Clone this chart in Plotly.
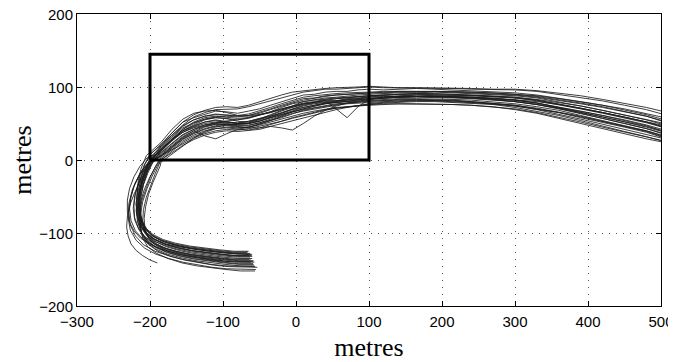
import plotly.graph_objects as go

# Trajectory data (metres).
# Each trajectory = its own lower part (start -> hairpin turn) + upper part on a common x grid.
UPPER_X = [-185,-170,-155,-140,-125,-110,-95,-80,-65,-50,-35,-20,-5,10,25,40,55,70,85,100,
           120,140,165,190,215,240,270,300,330,360,390,420,450,480,505]

LOWER_X = [
    [-60,-80,-100,-120,-140,-160,-178,-193,-204,-211,-215,-216,-214,-209,-203,-195],
    [-66,-86,-106,-126,-146,-166,-183,-197,-207,-213,-217,-218,-217,-214,-208,-199],
    [-55,-75,-95,-115,-135,-155,-174,-192,-207,-219,-227,-230,-229,-224,-214,-200],
    [-59,-79,-99,-119,-139,-159,-177,-192,-204,-212,-217,-219,-217,-213,-207,-198],
    [-63,-83,-103,-123,-143,-163,-180,-195,-205,-212,-216,-217,-215,-211,-205,-197],
    [-190,-200,-210,-219,-226,-230,-232,-231,-228,-222,-215,-208,-201,-195,-191,-188],
    [-58,-78,-98,-118,-138,-158,-176,-191,-202,-208,-212,-213,-212,-209,-204,-197],
    [-56,-76,-96,-116,-136,-156,-175,-191,-203,-210,-213,-213,-210,-204,-197,-190],
    [-67,-87,-107,-127,-147,-167,-184,-197,-206,-212,-215,-216,-214,-210,-204,-197],
    [-62,-82,-102,-122,-142,-162,-180,-196,-210,-220,-226,-228,-226,-221,-213,-203],
    [-60,-80,-100,-120,-140,-160,-177,-192,-203,-210,-214,-215,-213,-209,-203,-196],
    [-61,-81,-101,-121,-141,-161,-178,-193,-203,-209,-213,-214,-213,-210,-205,-198],
    [-57,-77,-97,-117,-137,-157,-176,-192,-204,-211,-214,-214,-211,-205,-199,-192],
    [-64,-84,-104,-124,-144,-164,-181,-196,-207,-214,-218,-219,-217,-212,-206,-199],
    [-53,-73,-93,-113,-133,-153,-172,-189,-202,-210,-214,-215,-213,-208,-201,-193],
    [-100,-118,-136,-154,-171,-187,-201,-213,-222,-228,-231,-231,-228,-222,-214,-204],
    [-65,-85,-105,-125,-145,-165,-182,-196,-206,-212,-215,-216,-215,-212,-207,-200],
    [-58,-78,-98,-118,-138,-158,-176,-192,-204,-211,-216,-218,-216,-212,-206,-198],
    [-62,-82,-102,-122,-142,-162,-180,-194,-203,-207,-208,-206,-202,-196,-190,-186],
    [-60,-80,-100,-120,-140,-160,-178,-194,-206,-213,-217,-219,-218,-216,-212,-205],
    [-63,-83,-103,-123,-143,-163,-180,-195,-205,-211,-214,-215,-213,-209,-203,-196],
    [-57,-77,-97,-117,-137,-157,-175,-190,-201,-207,-210,-209,-205,-199,-193,-188],
    [-64,-84,-104,-124,-144,-164,-181,-196,-208,-216,-221,-222,-220,-215,-208,-199],
    [-56,-76,-96,-116,-136,-156,-175,-193,-209,-220,-227,-229,-227,-222,-214,-203],
    [-61,-81,-101,-121,-141,-161,-179,-194,-205,-211,-214,-215,-214,-211,-206,-199],
    [-59,-79,-99,-119,-139,-159,-177,-193,-206,-215,-221,-223,-221,-216,-209,-200],
]
LOWER_Y = [
    [-130,-129,-127,-125,-122,-119,-115,-109,-101,-91,-78,-63,-47,-31,-15,0],
    [-126,-126,-124,-122,-119,-115,-110,-103,-94,-83,-70,-55,-39,-23,-7,8],
    [-150,-150,-149,-147,-144,-140,-135,-129,-121,-110,-96,-79,-60,-40,-20,-4],
    [-142,-142,-140,-138,-135,-131,-126,-119,-110,-99,-85,-69,-52,-35,-18,-3],
    [-133,-133,-131,-129,-126,-122,-117,-111,-103,-93,-80,-65,-49,-33,-17,0],
    [-141,-137,-131,-124,-115,-104,-92,-78,-63,-47,-32,-18,-6,2,8,11],
    [-138,-138,-136,-134,-131,-127,-122,-115,-106,-95,-82,-66,-50,-33,-16,1],
    [-152,-152,-150,-148,-145,-141,-135,-128,-119,-107,-92,-75,-57,-39,-22,-8],
    [-127,-127,-125,-123,-120,-116,-111,-104,-95,-84,-71,-56,-40,-24,-9,4],
    [-140,-140,-138,-136,-133,-129,-124,-117,-108,-97,-83,-67,-50,-33,-17,-4],
    [-135,-135,-133,-131,-128,-124,-119,-112,-104,-94,-81,-66,-50,-34,-18,-3],
    [-129,-129,-127,-125,-122,-118,-113,-106,-97,-87,-74,-59,-43,-27,-11,4],
    [-145,-145,-143,-141,-138,-134,-129,-122,-113,-102,-88,-72,-55,-38,-22,-8],
    [-131,-131,-129,-127,-124,-120,-115,-108,-99,-88,-75,-60,-44,-28,-13,1],
    [-147,-147,-146,-144,-141,-137,-132,-125,-116,-105,-91,-75,-58,-41,-25,-10],
    [-138,-136,-133,-130,-126,-121,-115,-107,-97,-85,-71,-55,-39,-23,-9,3],
    [-125,-125,-123,-121,-118,-114,-109,-102,-93,-82,-69,-54,-38,-22,-6,8],
    [-143,-143,-141,-139,-136,-132,-127,-120,-111,-100,-86,-70,-53,-36,-20,-5],
    [-137,-137,-135,-133,-130,-126,-121,-114,-105,-94,-80,-64,-47,-31,-17,-8],
    [-132,-132,-130,-128,-125,-121,-116,-109,-100,-89,-76,-61,-45,-28,-11,6],
    [-128,-128,-126,-124,-121,-117,-112,-105,-96,-85,-72,-57,-41,-25,-10,4],
    [-140,-140,-139,-137,-134,-130,-125,-118,-109,-98,-84,-68,-51,-34,-19,-7],
    [-136,-136,-134,-132,-129,-125,-120,-113,-104,-93,-79,-63,-46,-30,-14,1],
    [-146,-146,-145,-143,-140,-136,-131,-125,-116,-104,-89,-72,-54,-36,-19,-5],
    [-131,-131,-129,-127,-124,-120,-115,-108,-99,-88,-75,-60,-44,-27,-11,5],
    [-139,-139,-137,-135,-132,-128,-123,-116,-107,-96,-82,-66,-49,-32,-16,-2],
]
UPPER_Y = [
    [12,27,40,46,52,55,53,50,53,57,61,67,72,77,79,82,81,84,85,86,88,87,89,88,87,85,84,82,78,72,67,61,55,48,41],
    [22,38,52,58,63,67,66,64,67,70,75,80,85,89,90,93,94,94,96,97,96,97,98,97,96,95,94,92,89,85,80,75,69,62,55],
    [6,14,22,30,36,40,42,41,43,46,49,53,57,61,65,68,71,73,75,76,78,79,80,80,79,78,76,72,67,61,54,46,39,32,25],
    [8,20,32,40,33,29,36,42,45,49,54,60,66,70,74,77,79,81,82,84,85,86,87,87,86,85,83,80,76,70,64,57,50,43,35],
    [15,29,42,50,56,58,57,55,57,61,66,72,77,80,83,85,86,88,89,90,91,92,92,93,92,91,90,88,85,80,74,68,62,56,50],
    [14,28,40,47,52,54,52,50,51,55,59,64,69,72,75,78,79,80,81,82,83,84,84,84,83,82,80,77,73,68,61,54,47,40,32],
    [18,34,48,59,65,69,70,70,73,77,81,86,90,93,95,97,97,98,99,100,99,99,99,99,98,97,97,96,94,90,86,81,75,69,62],
    [0,12,24,32,38,43,44,42,41,44,48,53,58,62,66,69,71,73,74,75,76,77,77,77,76,75,73,69,64,57,50,42,35,29,24],
    [15,28,38,44,48,50,48,46,44,44,46,44,41,50,60,68,74,78,81,83,85,86,87,87,87,86,84,82,78,73,67,61,54,47,39],
    [6,18,30,38,45,49,50,49,50,53,58,63,68,72,75,78,80,82,83,84,85,86,86,86,85,84,82,80,76,71,64,57,50,43,36],
    [12,28,42,52,58,60,59,57,58,61,65,70,74,77,79,81,70,58,73,83,86,88,89,89,89,88,87,85,81,76,70,64,58,51,44],
    [20,37,52,62,68,72,73,72,75,80,85,89,93,95,97,98,99,99,100,101,100,99,99,99,98,98,97,97,95,92,88,83,78,72,66],
    [4,16,28,36,42,46,47,45,45,48,52,56,61,64,67,70,72,73,75,76,77,77,77,77,76,75,73,70,65,59,52,45,38,32,26],
    [13,27,40,48,55,58,57,53,52,56,62,69,75,80,82,84,85,86,87,88,89,90,91,91,90,89,88,86,82,77,71,65,59,52,45],
    [2,14,26,34,40,43,45,44,45,49,54,59,64,67,70,73,75,77,78,79,80,81,82,82,81,80,78,75,71,66,60,53,46,39,31],
    [10,23,35,42,48,51,52,50,50,53,58,64,70,75,78,80,82,83,84,85,86,87,87,87,86,85,83,80,76,71,65,59,52,46,39],
    [20,34,47,55,60,62,62,61,63,67,72,77,82,86,88,90,91,92,93,93,94,94,95,95,94,93,92,90,87,83,78,73,67,60,52],
    [6,19,31,40,46,49,49,47,47,51,56,61,66,69,72,75,77,78,79,81,82,83,83,83,82,80,78,75,70,65,58,52,45,38,30],
    [-3,8,20,30,39,45,48,49,50,54,58,63,67,71,74,77,79,80,82,83,85,86,87,87,87,86,85,83,80,76,71,65,59,52,45],
    [24,42,56,64,67,68,65,61,60,62,65,69,73,76,79,82,84,85,87,88,89,90,91,91,90,89,88,86,83,79,74,68,62,55,48],
    [16,31,44,51,56,59,60,59,61,65,70,75,80,84,85,88,89,90,90,92,92,93,93,94,93,92,91,89,86,82,77,72,66,60,53],
    [0,10,20,28,34,38,40,39,40,42,46,50,54,58,62,66,69,72,75,77,79,80,81,81,80,79,77,74,70,65,59,53,47,40,33],
    [12,26,38,45,50,52,53,55,58,62,66,70,74,78,80,83,84,86,87,88,89,90,90,90,89,88,87,85,82,77,71,65,59,53,47],
    [5,17,29,37,43,47,49,48,48,51,54,58,63,68,71,74,76,78,80,81,81,82,82,82,81,79,77,74,69,63,56,49,42,35,29],
    [17,32,46,55,60,63,62,60,61,64,69,74,78,82,85,87,89,90,91,92,93,94,94,94,93,93,92,90,88,84,80,75,70,64,58],
    [9,22,34,42,47,51,52,51,53,56,60,65,70,74,77,79,81,83,84,86,87,87,88,88,87,86,84,82,78,72,66,59,52,45,38],
]

# Highlighted region (rectangle)
BOX_X = [-200, 100, 100, -200, -200]
BOX_Y = [0, 0, 145, 145, 0]

X_TICKS = [-300, -200, -100, 0, 100, 200, 300, 400, 500]
Y_TICKS = [-200, -100, 0, 100, 200]


def lbl(v):
    return ("\u2212" + str(-v)) if v < 0 else str(v)


fig = go.Figure()
for lx, ly, uy in zip(LOWER_X, LOWER_Y, UPPER_Y):
    fig.add_trace(go.Scatter(x=lx + UPPER_X, y=ly + uy, mode="lines",
                             line=dict(color="#1c1c1c", width=0.85),
                             hoverinfo="skip", showlegend=False))

fig.add_trace(go.Scatter(x=BOX_X, y=BOX_Y, mode="lines",
                         line=dict(color="black", width=3),
                         showlegend=False, hoverinfo="skip"))

axis_common = dict(
    showline=True, linecolor="black", linewidth=1, mirror="ticks",
    ticks="inside", ticklen=5, tickcolor="black",
    showgrid=True, gridcolor="#555", griddash="1px,6px", gridwidth=1,
    zeroline=False, automargin=False, ticklabeloverflow="allow",
    tickfont=dict(family="Liberation Sans, Arial, sans-serif", size=15, color="black"),
)
title_font = dict(family="Liberation Serif, Times New Roman, serif", size=26, color="black")

fig.update_xaxes(range=[-300, 500], tickvals=X_TICKS, ticktext=[lbl(v) for v in X_TICKS],
                 ticklabelstandoff=2,
                 title=dict(text="metres", standoff=8, font=title_font), **axis_common)
fig.update_yaxes(range=[-200, 200], tickvals=Y_TICKS, ticktext=[lbl(v) for v in Y_TICKS],
                 ticklabelshift=1,
                 title=dict(text="metres", standoff=4, font=title_font), **axis_common)

# The page adds an 8px body margin, so the figure is sized to fill the rest of the window.
fig.update_layout(
    width=668, height=354,
    margin=dict(l=69, r=15, t=6, b=56),
    plot_bgcolor="white", paper_bgcolor="white",
    showlegend=False,
)

fig.write_html("out.html")
